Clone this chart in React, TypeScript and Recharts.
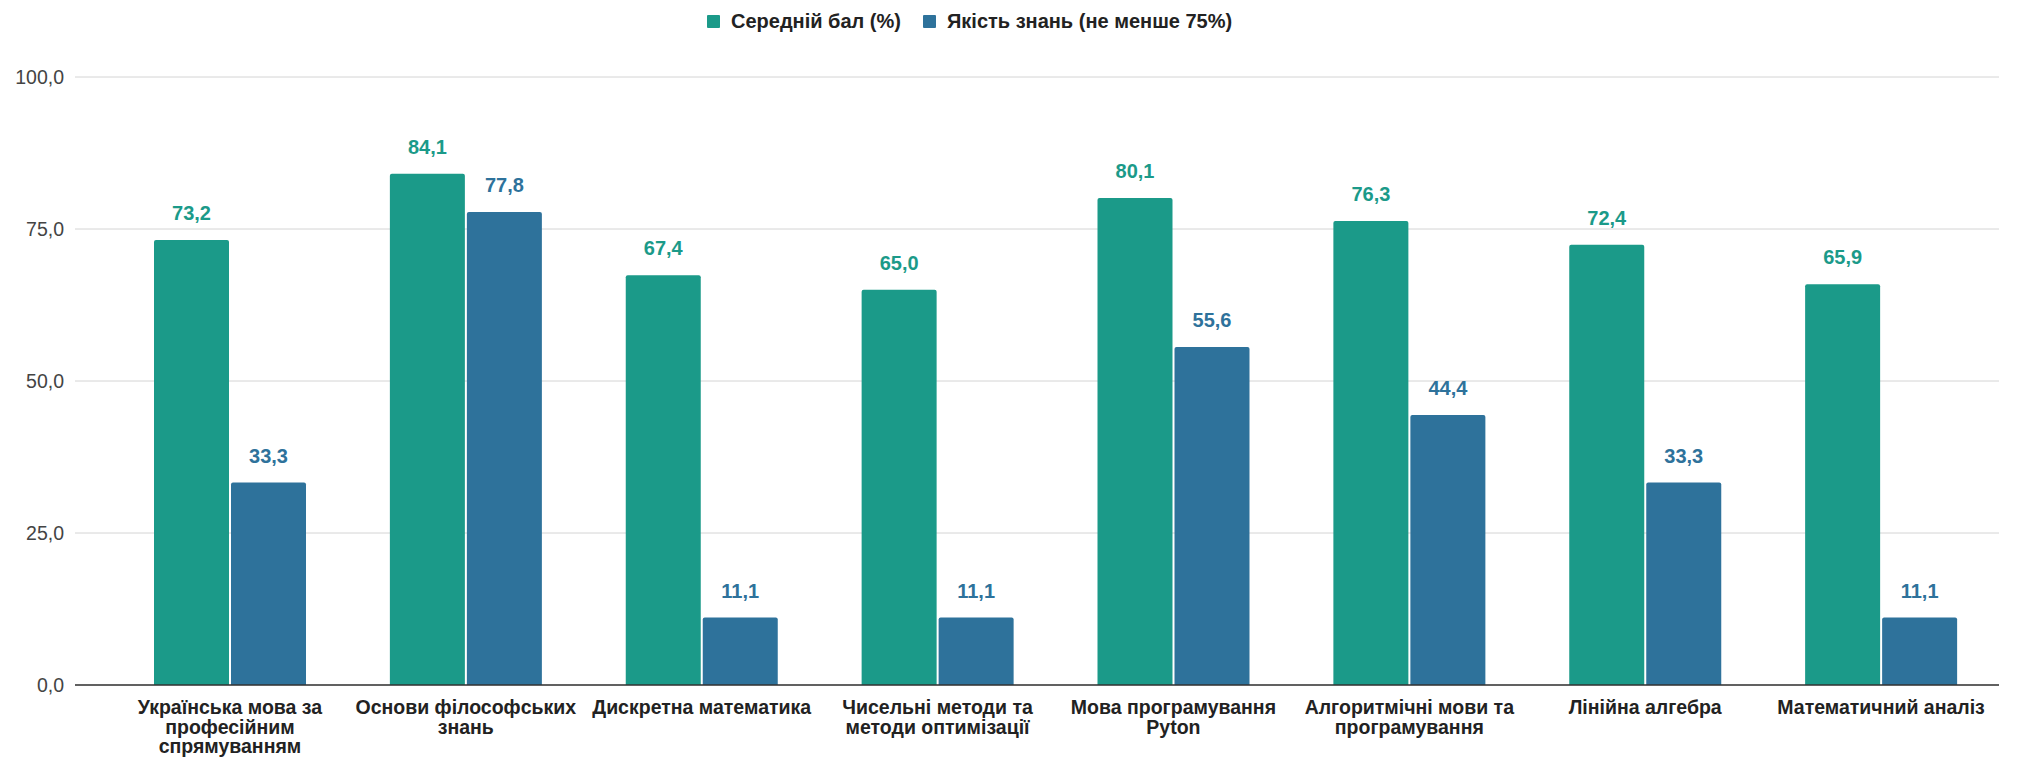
import { BarChart, Bar, XAxis, YAxis, CartesianGrid, LabelList } from 'recharts'

const categories = [
  'Українська мова за\nпрофесійним\nспрямуванням',
  'Основи філософських\nзнань',
  'Дискретна математика',
  'Чисельні методи та\nметоди оптимізації',
  'Мова програмування\nPyton',
  'Алгоритмічні мови та\nпрограмування',
  'Лінійна алгебра',
  'Математичний аналіз',
]
const averageScore = [73.2, 84.1, 67.4, 65.0, 80.1, 76.3, 72.4, 65.9]
const knowledgeQuality = [33.3, 77.8, 11.1, 11.1, 55.6, 44.4, 33.3, 11.1]
const seriesNames = ['Середній бал (%)', 'Якість знань (не менше 75%)']
const yTicks = [0, 25, 50, 75, 100]

const GREEN = '#1b9a89'
const BLUE = '#2e729b'
const FONT = '"Liberation Sans", Arial, sans-serif'

const data = categories.map((name, i) => ({
  name,
  avg: averageScore[i],
  quality: knowledgeQuality[i],
}))

const fmt = (v: number) => v.toFixed(1).replace('.', ',')

function CategoryTick({ x, y, payload }: any) {
  const lines = String(payload.value).split('\n')
  return (
    <text x={x} y={y + 21} textAnchor="middle" fontFamily={FONT} fontSize={19.5} fontWeight="bold" fill="#222">
      {lines.map((l, i) => (
        <tspan key={i} x={x} dy={i === 0 ? 0 : 19.5}>
          {l}
        </tspan>
      ))}
    </text>
  )
}

export default function App() {
  return (
    <div style={{ position: 'absolute', left: 0, top: 0, width: 2024, height: 757, background: '#fff', fontFamily: FONT }}>
      <div
        style={{
          position: 'absolute',
          top: 10,
          left: 707,
          display: 'flex',
          gap: 22,
          fontSize: 20,
          fontWeight: 'bold',
          color: '#222',
          whiteSpace: 'nowrap',
        }}
      >
        {seriesNames.map((s, i) => (
          <div key={s} style={{ display: 'flex', alignItems: 'center' }}>
            <span style={{ display: 'inline-block', width: 13, height: 13, background: i === 0 ? GREEN : BLUE, marginRight: 11, borderRadius: 1 }} />
            {s}
          </div>
        ))}
      </div>
      <BarChart
        width={2024}
        height={757}
        data={data}
        margin={{ top: 77, right: 25, bottom: 42, left: 0 }}
        barGap={2}
        barSize={75}
      >
        <CartesianGrid vertical={false} stroke="#d4d4d4" />
        <XAxis
          dataKey="name"
          interval={0}
          tickLine={false}
          axisLine={{ stroke: '#333', strokeWidth: 1.5 }}
          padding={{ left: 37, right: 0 }}
          tick={<CategoryTick />}
        />
        <YAxis
          width={75}
          domain={[0, 100]}
          ticks={yTicks}
          tickFormatter={fmt}
          tickLine={false}
          axisLine={false}
          tick={{ fill: '#444', fontSize: 19.5, fontFamily: FONT, dx: -3 }}
        />
        <Bar dataKey="avg" fill={GREEN} radius={[2, 2, 0, 0]} isAnimationActive={false}>
          <LabelList dataKey="avg" position="top" offset={20} formatter={(v: any) => fmt(Number(v))} fill={GREEN} fontSize={20} fontWeight="bold" fontFamily={FONT} />
        </Bar>
        <Bar dataKey="quality" fill={BLUE} radius={[2, 2, 0, 0]} isAnimationActive={false}>
          <LabelList dataKey="quality" position="top" offset={20} formatter={(v: any) => fmt(Number(v))} fill={BLUE} fontSize={20} fontWeight="bold" fontFamily={FONT} />
        </Bar>
      </BarChart>
    </div>
  )
}
